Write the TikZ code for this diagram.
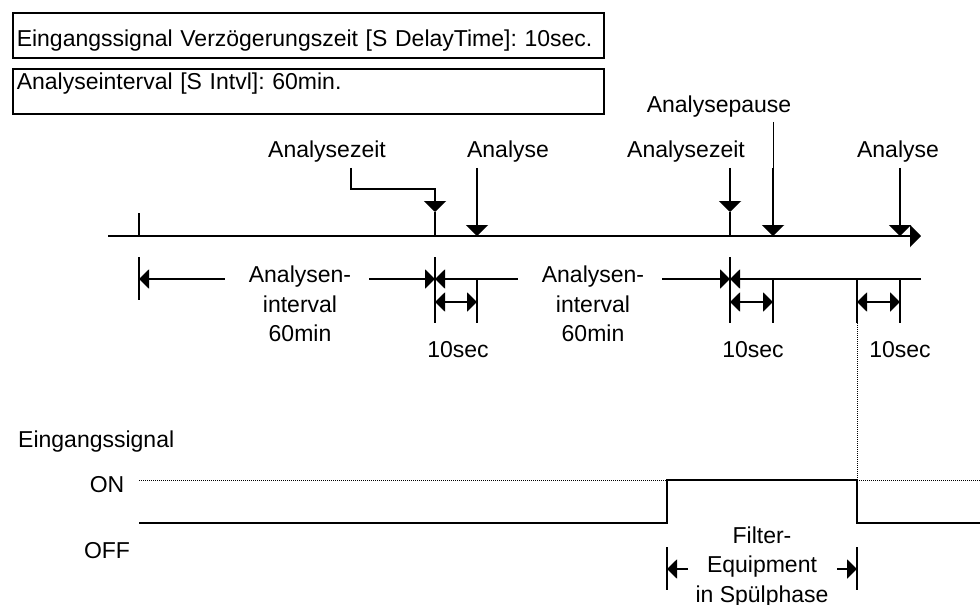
\documentclass[tikz,border=0pt]{standalone}
\usepackage{fontspec}
\setmainfont{Liberation Sans}
\usetikzlibrary{calc, arrows.meta, positioning}
\frenchspacing

\begin{document}
\begin{tikzpicture}[x=1pt, y=-1pt, >={Triangle[width=22pt,length=11pt]},
  every node/.style={font=\fontsize{23}{29.5}\selectfont, inner sep=0pt},
  infobox/.style={draw, line width=1.5pt, anchor=north west, text width=583pt,
    align=left, inner xsep=4pt, inner ysep=0pt},
  thickline/.style={line width=2.2pt},
  thinline/.style={line width=0.8pt},
  dimline/.style={line width=2pt, >={Triangle[width=19pt,length=10pt]}},
  bar/.style={line width=1.5pt},
  sigline/.style={line width=2pt},
  dotline/.style={line width=1pt, dash pattern=on 1pt off 1pt}]
  \useasboundingbox (0,0) rectangle (980,605);
  % Parameter boxes
  \node[infobox, text height=34pt, text depth=11pt] (delay) at (12,12)
    {Eingangssignal Verzögerungszeit [S DelayTime]: 10sec.};
  \node[infobox, text height=21pt, text depth=24pt] (intvl) at (12,68)
    {Analyseinterval [S Intvl]: 60min.};
  % Time axis
  \coordinate (axL) at (108,236);
  \coordinate (axR) at (921,236);
  \coordinate (t0) at (139,236);
  \coordinate (z1) at (435,236);
  \coordinate (a1) at (477,236);
  \coordinate (z2) at (730,236);
  \coordinate (p2) at (773,236);
  \coordinate (e2) at (857,236);
  \coordinate (a2) at (900,236);
  \draw[thickline,->] (axL) -- (axR);
  \draw[thickline] (t0) -- ++(0,-23);
  % Event labels
  \node[anchor=base] (lz1) at (327,157) {Analysezeit};
  \node[anchor=base] (la1) at (508,157) {Analyse};
  \node[anchor=base] (lz2) at (686,157) {Analysezeit};
  \node[anchor=base] (lp2) at (719,112) {Analysepause};
  \node[anchor=base] (la2) at (898,157) {Analyse};
  % Event arrows
  \draw[thickline,->] ($(lz1.south)+(24,6)$) |- ($(z1)+(0,-47)$) -- ($(z1)+(0,-24)$);
  \draw[thickline] ($(z1)+(0,-24)$) -- (z1);
  \draw[thickline,->] ($(la1.south -| a1)+(0,6)$) -- (a1);
  \draw[thickline,->] ($(lz2.south -| z2)+(0,6)$) -- ($(z2)+(0,-24)$);
  \draw[thickline] ($(z2)+(0,-24)$) -- (z2);
  \draw[thinline] ($(lp2.south -| p2)+(0,5)$) -- ($(p2)+(0,-68)$);
  \draw[thickline,->] ($(p2)+(0,-68)$) -- (p2);
  \draw[thickline,->] ($(la2.south -| a2)+(0,6)$) -- (a2);
  % Interval dimensions
  \coordinate (d0) at (139,279);
  \coordinate (d1) at (435,279);
  \coordinate (d2) at (730,279);
  \coordinate (dE) at (921,279);
  \draw[bar] ($(t0)+(0,21)$) -- ($(t0)+(0,64)$);
  \foreach \c in {z1,z2}
    \draw[bar] ($(\c)+(0,21)$) -- ($(\c)+(0,87)$);
  \foreach \c in {a1,p2,e2,a2}
    \draw[bar] ($(\c)+(0,43)$) -- ($(\c)+(0,87)$);
  \node[align=center] (iv1) at (300,304) {Analysen-\\interval\\60min};
  \node[align=center] (iv2) at (593,304) {Analysen-\\interval\\60min};
  \draw[dimline,->] ($(iv1.west |- d0)+(-24,0)$) -- (d0);
  \draw[dimline,->] ($(iv1.east |- d1)+(18,0)$) -- (d1);
  \draw[dimline,->] ($(iv2.west |- d1)+(-24,0)$) -- (d1);
  \draw[dimline,->] ($(iv2.east |- d2)+(18,0)$) -- (d2);
  \draw[dimline,->] (dE) -- (d2);
  % Delay time
  \foreach \s/\e in {z1/a1, z2/p2, e2/a2}
    \draw[dimline,<->] ($(\s)+(0,66)$) -- ($(\e)+(0,66)$);
  \node[anchor=base] (ds1) at (458,357) {10sec};
  \node[anchor=base] (ds2) at (753,357) {10sec};
  \node[anchor=base] (ds3) at (900,357) {10sec};
  % Input signal
  \node[anchor=base west] (sig) at (18,447) {Eingangssignal};
  \node[anchor=base] (on) at (107,492) {ON};
  \node[anchor=base] (off) at (107,558) {OFF};
  \coordinate (on0) at (139,480);
  \coordinate (on1) at (980,480);
  \coordinate (s0) at (139,523);
  \coordinate (s1) at (667,523);
  \coordinate (s2) at (857,523);
  \coordinate (s3) at (980,523);
  \draw[dotline] (on0) -- (on1);
  \draw[dotline] ($(e2)+(0,87)$) -- (s2 |- on0);
  \draw[sigline] (s0) -- (s1) -- (s1 |- on0) -| (s2) -- (s3);
  % Rinse phase
  \draw[bar] ($(s1)+(0,24)$) -- ($(s1)+(0,67)$);
  \draw[bar] ($(s2)+(0,24)$) -- ($(s2)+(0,67)$);
  \node[align=center] (fil) at (762,567) {Filter-\\Equipment\\in Spülphase};
  \draw[dimline,->] ($(s1)+(21,46)$) -- ($(s1)+(0,46)$);
  \draw[dimline,->] ($(s2)+(-20,46)$) -- ($(s2)+(0,46)$);
\end{tikzpicture}
\end{document}
